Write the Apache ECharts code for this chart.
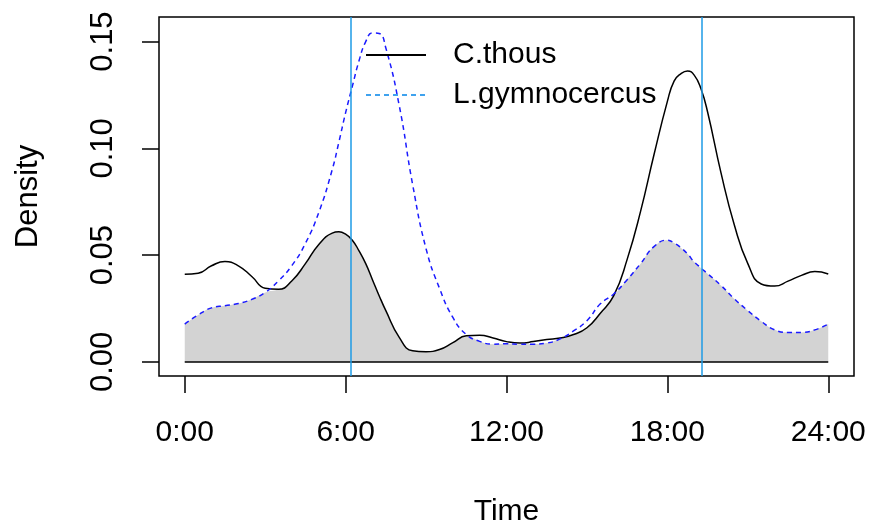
<!DOCTYPE html>
<html>
<head>
<meta charset="utf-8">
<script src="https://cdn.jsdelivr.net/npm/echarts@6/dist/echarts.min.js"></script>
<style>
html,body{margin:0;padding:0;background:#fff;}
#chart{width:871px;height:527px;}
</style>
</head>
<body>
<div id="chart"></div>
<script>
// Time of day (hours) shared by both density curves
const hours = [0,0.5,1,1.5,2,2.5,3,3.5,4,4.5,5,5.5,5.75,6,6.25,6.5,6.75,7,7.25,7.5,8,8.5,9,9.5,10,10.5,11,11.5,12,
  12.5,13,13.5,14,14.5,15,15.5,16,16.5,17,17.5,18,18.25,18.5,18.75,19,19.25,19.5,20,20.5,21,21.5,22,22.5,23,23.5,24];
// C.thous density (solid black)
const cThous = [0.041,0.0415,0.045,0.047,0.045,0.040,0.0345,0.034,0.038,0.046,0.055,0.0603,0.0609,0.0598,0.057,0.052,0.046,0.0385,0.031,0.024,0.0115,0.0052,0.0048,0.0058,0.009,0.0122,0.0125,0.0112,0.0095,
  0.0088,0.0095,0.0105,0.0112,0.0128,0.016,0.0228,0.031,0.048,0.0705,0.097,0.122,0.1315,0.1349,0.1362,0.1343,0.128,0.117,0.0885,0.064,0.046,0.0365,0.0355,0.0378,0.0405,0.0423,0.0412];
// L.gymnocercus density (dashed blue)
const lGymno = [0.0177,0.022,0.0253,0.0263,0.0273,0.0293,0.0325,0.038,0.0452,0.0555,0.070,0.090,0.103,0.1167,0.129,0.141,0.150,0.154,0.1538,0.147,0.120,0.083,0.053,0.0345,0.0208,0.0128,0.0096,0.0083,0.0085,
  0.0083,0.0083,0.0088,0.0108,0.0145,0.0193,0.0272,0.0318,0.0385,0.046,0.054,0.057,0.0557,0.0535,0.0506,0.0468,0.044,0.0413,0.0358,0.0295,0.024,0.019,0.015,0.0138,0.0138,0.015,0.0177];
// Sunrise / sunset reference lines (hours)
const sunTimes = [6.2, 19.3];
const xTicks = [0, 6, 12, 18, 24];
const xTickLabels = ['0:00', '6:00', '12:00', '18:00', '24:00'];
const yTicks = [0, 0.05, 0.10, 0.15];
const seriesNames = ['C.thous', 'L.gymnocercus'];

const overlap = hours.map((h, i) => [h, Math.min(cThous[i], lGymno[i])]);
const pairs = arr => hours.map((h, i) => [h, arr[i]]);

const FONT = '"Liberation Sans", Arial, sans-serif';
const chart = echarts.init(document.getElementById('chart'), null, {renderer: 'canvas'});
chart.setOption({
  animation: false,
  backgroundColor: '#ffffff',
  grid: {left: 159, right: 17, top: 17, bottom: 151, show: true, borderColor: '#000', borderWidth: 1.5,
    backgroundColor: 'transparent', containLabel: false, outerBoundsMode: 'none'},
  legend: {
    left: 360, top: 35, orient: 'vertical', itemWidth: 60, itemHeight: 14, itemGap: 10,
    itemStyle: {opacity: 0},
    textStyle: {fontFamily: FONT, fontSize: 30, color: '#000', padding: [0, 0, 0, 22]},
    data: [
      {name: seriesNames[0]},
      {name: seriesNames[1], lineStyle: {color: '#3fa2ee'}}
    ]
  },
  xAxis: {
    type: 'value', min: -0.96, max: 24.96,
    name: 'Time', nameLocation: 'middle', nameGap: 121,
    nameTextStyle: {fontFamily: FONT, fontSize: 30, color: '#000'},
    axisLine: {show: false, onZero: false},
    axisTick: {show: true, length: 17, inside: false, customValues: xTicks, lineStyle: {color: '#000', width: 1.5}},
    axisLabel: {customValues: xTicks, margin: 42, fontFamily: FONT, fontSize: 30, color: '#000',
      formatter: v => xTickLabels[xTicks.indexOf(v)]},
    splitLine: {show: false}
  },
  yAxis: {
    type: 'value', min: -0.0066, max: 0.1615,
    name: 'Density', nameLocation: 'middle', nameGap: 115, nameRotate: 90,
    nameTextStyle: {fontFamily: FONT, fontSize: 31, color: '#000'},
    axisLine: {show: false, onZero: false},
    axisTick: {show: true, length: 17, inside: false, customValues: yTicks, lineStyle: {color: '#000', width: 1.5}},
    axisLabel: {customValues: yTicks, rotate: 90, margin: 40, fontFamily: FONT, fontSize: 31, color: '#000',
      formatter: v => v.toFixed(2)},
    splitLine: {show: false}
  },
  series: [
    {
      name: 'overlap', type: 'line', data: overlap, smooth: 0.5, symbol: 'none',
      lineStyle: {width: 0}, areaStyle: {color: '#D3D3D3', opacity: 1}, z: 1, silent: true
    },
    {
      name: 'zero', type: 'line', data: [[0, 0], [24, 0]], symbol: 'none',
      lineStyle: {color: '#000', width: 1.5}, z: 2, silent: true
    },
    {
      name: seriesNames[0], type: 'line', data: pairs(cThous), smooth: 0.5, symbol: 'none',
      lineStyle: {color: '#000', width: 1.5, type: 'solid'}, itemStyle: {color: '#000'}, z: 3
    },
    {
      name: seriesNames[1], type: 'line', data: pairs(lGymno), smooth: 0.5, symbol: 'none',
      lineStyle: {color: '#1a1aff', width: 1.5, type: [5, 4]}, itemStyle: {color: '#3fa2ee'}, z: 3,
      markLine: {
        silent: true, symbol: ['none', 'none'], label: {show: false},
        lineStyle: {color: '#1e9be6', width: 1.5, type: 'solid'},
        data: sunTimes.map(t => ({xAxis: t}))
      }
    }
  ]
});
</script>
</body>
</html>
